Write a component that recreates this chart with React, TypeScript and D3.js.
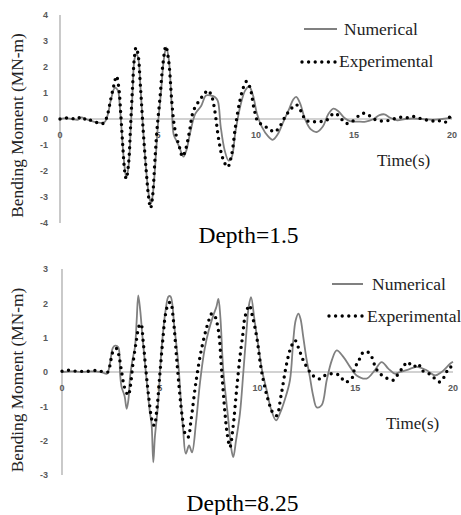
import React from "react";
import * as d3 from "d3";

const xTicks = [0, 5, 10, 15, 20];
const topYTicks = [4, 3, 2, 1, 0, -1, -2, -3, -4];
const bottomYTicks = [3, 2, 1, 0, -1, -2, -3];
const seriesNames = ["Numerical", "Experimental"];
const depthLabels = ["Depth=1.5", "Depth=8.25"];

const topNumerical: [number, number][] = [
  [0, 0], [0.3, 0.03], [0.6, 0], [0.9, -0.03], [1.1, 0.06], [1.3, 0], [1.5, -0.05], [1.8, -0.12], [2.1, -0.15], [2.3, -0.1],
  [2.45, 0.2], [2.6, 0.75], [2.8, 1.2], [2.95, 1.1], [3.05, 0.5], [3.15, -0.5], [3.25, -1.5], [3.38, -2.25], [3.5, -1.8],
  [3.6, -0.5], [3.7, 1.0], [3.8, 2.3], [3.9, 2.5], [4.0, 2.3], [4.1, 1.3], [4.25, -0.5], [4.4, -2.0], [4.55, -3.0], [4.65, -3.25],
  [4.75, -2.8], [4.9, -1.3], [5.0, -0.2], [5.15, 1.0], [5.3, 2.3], [5.42, 2.75], [5.55, 2.3], [5.7, 0.5], [5.8, -0.6],
  [5.95, -0.85], [6.1, -1.1], [6.3, -1.45], [6.45, -1.2], [6.65, -0.5], [6.9, 0.2], [7.2, 0.5], [7.45, 0.9], [7.7, 0.9],
  [7.9, 0.85], [8.05, 0.7], [8.2, -0.3], [8.4, -1.2], [8.6, -1.6], [8.75, -1.5], [8.95, -0.5], [9.2, 0.5], [9.45, 1.1],
  [9.65, 1.25], [9.85, 0.9], [10.05, 0.2], [10.3, -0.3], [10.6, -0.65], [10.85, -0.8], [11.1, -0.6], [11.4, -0.1], [11.7, 0.4],
  [11.9, 0.75], [12.05, 0.85], [12.25, 0.6], [12.5, 0], [12.8, -0.4], [13.1, -0.5], [13.4, -0.3], [13.7, 0.2], [13.95, 0.4],
  [14.2, 0.3], [14.5, 0.05], [14.8, -0.08], [15.2, -0.1], [15.6, -0.1], [16.0, 0], [16.3, 0.15], [16.55, 0.18], [16.85, 0.05],
  [17.2, -0.05], [17.6, 0], [18, 0.02], [18.5, 0], [19, -0.03], [19.5, 0], [20, 0.05],
];

const topExperimental: [number, number][] = [
  [0, 0], [0.3, 0.04], [0.6, 0.02], [0.9, 0], [1.05, 0.09], [1.25, 0], [1.45, 0.03], [1.6, -0.07], [1.85, -0.13], [2.05, -0.19],
  [2.25, -0.15], [2.4, 0.1], [2.6, 0.8], [2.75, 1.3], [2.88, 1.65], [3.0, 1.2], [3.1, 0.2], [3.2, -1.0], [3.3, -2.0], [3.38, -2.3],
  [3.5, -1.7], [3.6, -0.3], [3.7, 1.2], [3.8, 2.4], [3.88, 2.75], [3.98, 2.5], [4.1, 1.3], [4.25, -0.5], [4.4, -2.0], [4.52, -3.0],
  [4.62, -3.43], [4.72, -3.0], [4.85, -1.5], [4.95, -0.4], [5.1, 0.8], [5.25, 2.1], [5.4, 2.8], [5.55, 2.2], [5.7, 0.7],
  [5.82, -0.2], [5.95, -0.7], [6.1, -1.1], [6.25, -1.45], [6.4, -1.2], [6.6, -0.5], [6.8, 0.3], [7.1, 0.7], [7.35, 0.95],
  [7.55, 1.1], [7.75, 0.85], [7.9, 0.3], [8.1, -0.8], [8.3, -1.5], [8.55, -1.85], [8.75, -1.4], [8.95, -0.3], [9.15, 0.6],
  [9.35, 1.2], [9.52, 1.45], [9.7, 1.2], [9.9, 0.4], [10.1, -0.1], [10.4, -0.25], [10.7, -0.4], [10.95, -0.5], [11.2, -0.3],
  [11.5, 0.1], [11.8, 0.4], [12.05, 0.55], [12.3, 0.3], [12.55, -0.05], [12.9, -0.1], [13.3, -0.1], [13.6, -0.05], [13.85, 0.15],
  [14.05, 0.22], [14.3, 0.05], [14.6, -0.17], [14.9, -0.1], [15.2, 0.1], [15.45, 0.22], [15.7, 0.18], [15.95, 0.02], [16.2, -0.05],
  [16.5, -0.08], [16.8, -0.05], [17.1, 0.02], [17.4, 0.07], [17.7, 0.05], [18.0, 0.1], [18.3, 0.04], [18.6, -0.03], [18.9, -0.05],
  [19.2, -0.1], [19.5, -0.05], [19.7, -0.12], [19.85, 0.05], [20, 0.15],
];

const bottomNumerical: [number, number][] = [
  [0, 0], [0.5, 0.02], [1, 0], [1.5, 0.02], [2, 0], [2.3, -0.05], [2.45, 0.25], [2.6, 0.7], [2.72, 0.77], [2.88, 0.72],
  [2.97, -0.05], [3.05, -0.44], [3.2, -0.7], [3.31, -1.07], [3.4, -0.8], [3.48, -0.15], [3.6, 0.34], [3.73, 0.72], [3.82, 1.5],
  [3.9, 2.23], [4.0, 1.8], [4.12, 1.0], [4.33, -0.25], [4.5, -1.2], [4.58, -1.5], [4.67, -2.63], [4.75, -1.9], [4.9, -1.03],
  [5.1, 0.72], [5.3, 1.8], [5.45, 2.2], [5.55, 2.2], [5.75, 1.3], [5.95, 0.24], [6.1, -1.0], [6.2, -1.7], [6.33, -2.38],
  [6.5, -2.14], [6.65, -2.34], [6.85, -1.5], [7.06, -0.3], [7.3, 0.68], [7.5, 1.2], [7.74, 1.65], [7.9, 1.9], [8.0, 2.13],
  [8.1, 1.6], [8.25, 0.04], [8.51, -1.41], [8.65, -2.2], [8.76, -2.48], [8.9, -2.0], [9.1, -1.22], [9.27, -0.05], [9.44, 1.21],
  [9.55, 1.9], [9.67, 2.18], [9.85, 1.5], [10.05, 0.73], [10.25, 0], [10.47, -0.53], [10.7, -1.1], [10.95, -1.41], [11.15, -1.2],
  [11.4, -0.8], [11.66, -0.24], [11.83, 0.92], [11.95, 1.5], [12.09, 1.7], [12.2, 1.55], [12.34, 1.02], [12.5, 0.4],
  [12.68, -0.15], [12.85, -0.7], [13.03, -1.03], [13.28, -0.97], [13.54, -0.24], [13.8, 0.34], [14.05, 0.63], [14.39, 0.44],
  [14.73, 0.15], [15.07, -0.1], [15.58, -0.19], [16.0, 0.05], [16.35, 0.29], [16.69, 0.1], [17.03, -0.05], [17.29, 0],
  [17.71, 0.07], [18.14, 0.15], [18.65, 0.05], [19.08, -0.1], [19.42, 0], [19.85, 0.24], [20, 0.3],
];

const bottomExperimental: [number, number][] = [
  [0, 0.02], [0.3, 0.05], [0.6, 0.03], [0.9, 0.02], [1.2, 0.02], [1.5, 0.03], [1.8, 0.05], [2.0, 0.02], [2.2, 0.02], [2.35, 0],
  [2.5, 0.35], [2.65, 0.65], [2.8, 0.68], [2.92, 0.45], [3.05, 0], [3.2, -0.45], [3.39, -0.68], [3.5, -0.4], [3.62, 0.2],
  [3.8, 0.9], [3.95, 1.35], [4.04, 1.4], [4.15, 0.9], [4.3, 0], [4.45, -0.8], [4.6, -1.4], [4.72, -1.56], [4.85, -1.1], [5.0, -0.1],
  [5.15, 0.9], [5.3, 1.7], [5.45, 2.0], [5.55, 2.03], [5.7, 1.5], [5.85, 0.5], [6.0, -0.5], [6.15, -1.3], [6.3, -1.8],
  [6.45, -1.9], [6.6, -1.4], [6.85, -0.3], [7.14, 0.68], [7.48, 1.45], [7.66, 1.7], [7.8, 1.65], [8.0, 1.21], [8.17, 0],
  [8.34, -1.22], [8.45, -1.8], [8.59, -2.19], [8.75, -1.6], [8.93, -0.53], [9.1, 0.43], [9.25, 1.1], [9.36, 1.6], [9.58, 1.94],
  [9.75, 1.6], [9.96, 1.02], [10.2, 0.05], [10.55, -0.83], [10.8, -1.2], [10.98, -1.27], [11.2, -0.7], [11.49, 0.24], [11.7, 0.7],
  [11.92, 0.92], [12.1, 0.7], [12.34, 0.34], [12.68, 0], [12.94, -0.15], [13.2, -0.2], [13.45, -0.1], [13.8, -0.05], [14.2, -0.1],
  [14.48, -0.29], [14.82, -0.19], [14.99, 0.15], [15.16, 0.29], [15.33, 0.53], [15.58, 0.6], [15.84, 0.44], [16.0, 0.19],
  [16.18, 0], [16.52, -0.15], [16.94, -0.24], [17.2, -0.05], [17.46, 0.15], [17.66, 0.29], [17.97, 0.15], [18.23, 0.24],
  [18.4, 0.05], [18.7, -0.02], [18.99, -0.15], [19.33, -0.29], [19.59, -0.1], [19.76, 0.1], [19.88, 0.15], [19.95, 0.05],
];

type Panel = {
  xr: [number, number];
  yd: [number, number];
  yr: [number, number];
  yTicks: number[];
  num: [number, number][];
  exp: [number, number][];
  legendLine: [number, number, number];
  legendNumText: [number, number];
  legendDots: [number, number, number];
  legendExpText: [number, number];
  timeText: [number, number];
  depthText: [number, number];
  yTitleCenter: number;
  depth: string;
};

const panels: Panel[] = [
  {
    xr: [60, 452], yd: [4, -4], yr: [15, 223], yTicks: topYTicks, num: topNumerical, exp: topExperimental,
    legendLine: [304, 337, 29], legendNumText: [344, 34.5], legendDots: [302, 335, 62], legendExpText: [339, 67],
    timeText: [377, 166], depthText: [248.5, 243], yTitleCenter: 125.5, depth: depthLabels[0],
  },
  {
    xr: [62, 453], yd: [3, -3], yr: [269, 475], yTicks: bottomYTicks, num: bottomNumerical, exp: bottomExperimental,
    legendLine: [332, 363, 284], legendNumText: [372, 289.5], legendDots: [329, 362, 316], legendExpText: [367, 322],
    timeText: [386, 428.5], depthText: [242.5, 511], yTitleCenter: 380, depth: depthLabels[1],
  },
];

const serif = "'Liberation Serif', 'Times New Roman', serif";
const sans = "'Liberation Sans', Arial, sans-serif";

function ChartPanel({ p }: { p: Panel }) {
  const x = d3.scaleLinear().domain([0, 20]).range(p.xr);
  const y = d3.scaleLinear().domain(p.yd).range(p.yr);
  const line = d3
    .line<[number, number]>()
    .x((d) => x(d[0]))
    .y((d) => y(d[1]))
    .curve(d3.curveCatmullRom.alpha(0.5));
  const y0 = y(0);
  return (
    <g>
      <line x1={x(0)} x2={x(0)} y1={y(p.yd[0])} y2={y(p.yd[1])} stroke="#a6a6a6" strokeWidth={1.2} />
      <line x1={x(0)} x2={x(20)} y1={y0} y2={y0} stroke="#a6a6a6" strokeWidth={1.2} />
      {p.yTicks.map((t) => (
        <text key={t} x={48} y={y(t) + 3.2} textAnchor="end" fontFamily={sans} fontSize={9} fontWeight="bold" fill="#595959">
          {t}
        </text>
      ))}
      {xTicks.map((t) => (
        <text key={t} x={x(t)} y={y0 + 19} textAnchor="middle" fontFamily={sans} fontSize={9} fontWeight="bold" fill="#595959">
          {t}
        </text>
      ))}
      <path d={line(p.num) || ""} fill="none" stroke="#808080" strokeWidth={1.8} />
      <path
        d={line(p.exp) || ""}
        fill="none"
        stroke="#000"
        strokeWidth={3.4}
        strokeLinecap="round"
        strokeDasharray="0 6.6"
      />
      <line x1={p.legendLine[0]} x2={p.legendLine[1]} y1={p.legendLine[2]} y2={p.legendLine[2]} stroke="#808080" strokeWidth={2} />
      <text x={p.legendNumText[0]} y={p.legendNumText[1]} fontFamily={serif} fontSize={17.5} fill="#222">
        {seriesNames[0]}
      </text>
      <line
        x1={p.legendDots[0]}
        x2={p.legendDots[1]}
        y1={p.legendDots[2]}
        y2={p.legendDots[2]}
        stroke="#000"
        strokeWidth={3.4}
        strokeLinecap="round"
        strokeDasharray="0 6.6"
      />
      <text x={p.legendExpText[0]} y={p.legendExpText[1]} fontFamily={serif} fontSize={17.5} fill="#222">
        {seriesNames[1]}
      </text>
      <text x={p.timeText[0]} y={p.timeText[1]} fontFamily={serif} fontSize={17} fill="#222">
        Time(s)
      </text>
      <text
        transform={`translate(23,${p.yTitleCenter}) rotate(-90)`}
        textAnchor="middle"
        fontFamily={serif}
        fontSize={17.3}
        fill="#222"
      >
        Bending Moment (MN-m)
      </text>
      <text x={p.depthText[0]} y={p.depthText[1]} textAnchor="middle" fontFamily={serif} fontSize={23.5} fill="#000">
        {p.depth}
      </text>
    </g>
  );
}

export default function App() {
  return (
    <svg width={461} height={515} style={{ position: "absolute", left: 0, top: 0, background: "#fff" }}>
      <rect width={461} height={515} fill="#fff" />
      {panels.map((p, i) => (
        <ChartPanel key={i} p={p} />
      ))}
    </svg>
  );
}
